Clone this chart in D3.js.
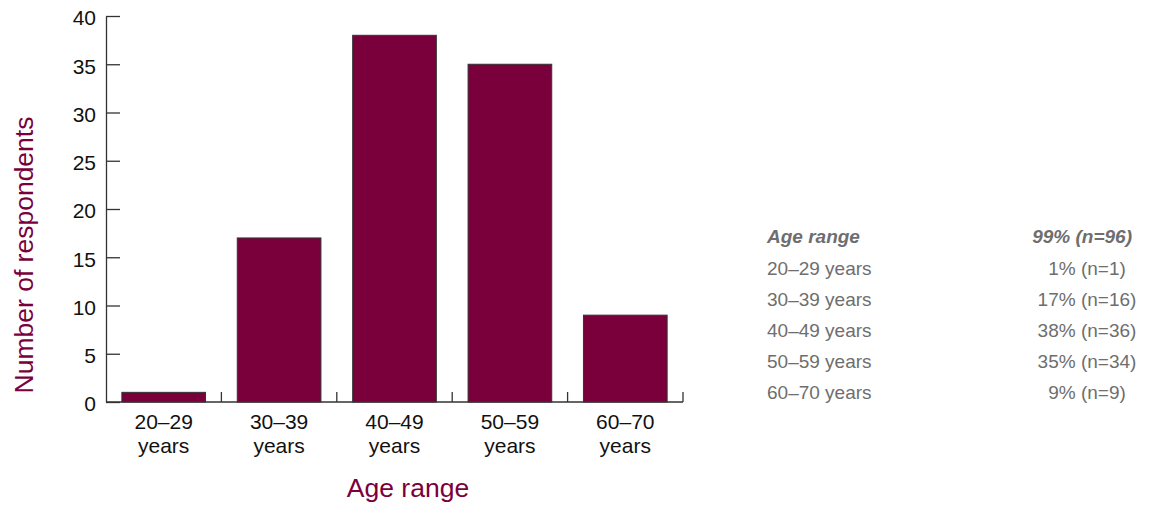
<!DOCTYPE html>
<html>
<head>
<meta charset="utf-8">
<script src="https://cdn.jsdelivr.net/npm/d3@7"></script>
<style>
  body { margin: 0; background: #fff; }
  text { font-family: "Liberation Sans", Arial, sans-serif; }
</style>
</head>
<body>
<div id="chart"></div>
<script>
  // data
  const categories = ["20–29 years", "30–39 years", "40–49 years", "50–59 years", "60–70 years"];
  const respondents = [1, 17, 38, 35, 9];
  const yTicks = [0, 5, 10, 15, 20, 25, 30, 35, 40];
  const tableHeader = ["Age range", "99% (n=96)"];
  const tablePct = ["1% (n=1)", "17% (n=16)", "38% (n=36)", "35% (n=34)", "9% (n=9)"];

  const width = 1149;
  const height = 506;
  const margin = { top: 16, left: 106 };
  const plotW = 577, plotH = 386;
  const maroon = "#7a003c";

  const svg = d3.select("#chart")
    .append("svg")
    .attr("width", width)
    .attr("height", height);

  const g = svg.append("g")
    .attr("transform", `translate(${margin.left},${margin.top})`);

  const x = d3.scaleBand()
    .domain(categories)
    .range([0, plotW])
    .paddingInner(0.275)
    .paddingOuter(0.1375);

  const y = d3.scaleLinear()
    .domain([0, 40])
    .range([plotH, 0]);

  // bars
  g.selectAll("rect.bar")
    .data(categories)
    .enter()
    .append("rect")
    .attr("class", "bar")
    .attr("x", d => x(d))
    .attr("y", (d, i) => y(respondents[i]))
    .attr("width", x.bandwidth())
    .attr("height", (d, i) => y(0) - y(respondents[i]))
    .attr("fill", maroon)
    .attr("stroke", "#333")
    .attr("stroke-width", 1);

  // y axis (ticks point inward)
  const yAxis = g.append("g")
    .call(d3.axisLeft(y).tickValues(yTicks).tickSizeInner(-14).tickSizeOuter(0).tickPadding(10));
  yAxis.selectAll("text").style("font-size", "21px").attr("fill", "#111").attr("dy", "0.42em");
  yAxis.selectAll("line, path").attr("stroke", "#333").attr("stroke-width", 1.3);

  // x axis line and separator ticks
  const step = x.step();
  const xLine = g.append("g").attr("transform", `translate(0,${plotH})`);
  xLine.append("line")
    .attr("x1", 0).attr("x2", plotW)
    .attr("stroke", "#333").attr("stroke-width", 1.3);
  xLine.selectAll("line.sep")
    .data(categories)
    .enter()
    .append("line")
    .attr("class", "sep")
    .attr("x1", d => x(d) - x.paddingOuter() * step + step)
    .attr("x2", d => x(d) - x.paddingOuter() * step + step)
    .attr("y1", 0).attr("y2", -10)
    .attr("stroke", "#333").attr("stroke-width", 1.3);

  // x labels, two lines
  const xl = xLine.selectAll("text.xl")
    .data(categories)
    .enter()
    .append("text")
    .attr("class", "xl")
    .attr("text-anchor", "middle")
    .attr("fill", "#111")
    .style("font-size", "21px");
  xl.append("tspan")
    .attr("x", d => x(d) + x.bandwidth() / 2)
    .attr("y", 27)
    .text(d => d.split(" ")[0]);
  xl.append("tspan")
    .attr("x", d => x(d) + x.bandwidth() / 2)
    .attr("y", 51)
    .text(d => d.split(" ")[1]);

  // axis titles
  svg.append("text")
    .attr("transform", "translate(33,255) rotate(-90)")
    .attr("text-anchor", "middle")
    .attr("fill", maroon)
    .style("font-size", "26.5px")
    .text("Number of respondents");

  svg.append("text")
    .attr("x", 408)
    .attr("y", 497)
    .attr("text-anchor", "middle")
    .attr("fill", maroon)
    .style("font-size", "26.5px")
    .text("Age range");

  // side table
  const table = svg.append("g").attr("fill", "#6e6e6e").style("font-size", "19px");
  table.append("text")
    .attr("x", 767).attr("y", 243)
    .style("font-weight", "bold").style("font-style", "italic")
    .text(tableHeader[0]);
  table.append("text")
    .attr("x", 1132).attr("y", 243)
    .attr("text-anchor", "end")
    .style("font-weight", "bold").style("font-style", "italic")
    .text(tableHeader[1]);

  const rows = table.selectAll("g.row")
    .data(categories)
    .enter()
    .append("g")
    .attr("class", "row")
    .attr("transform", (d, i) => `translate(0,${275 + i * 31})`);
  rows.append("text").attr("x", 767).text(d => d);
  rows.append("text")
    .attr("x", 1087)
    .attr("text-anchor", "middle")
    .text((d, i) => tablePct[i]);
</script>
</body>
</html>
